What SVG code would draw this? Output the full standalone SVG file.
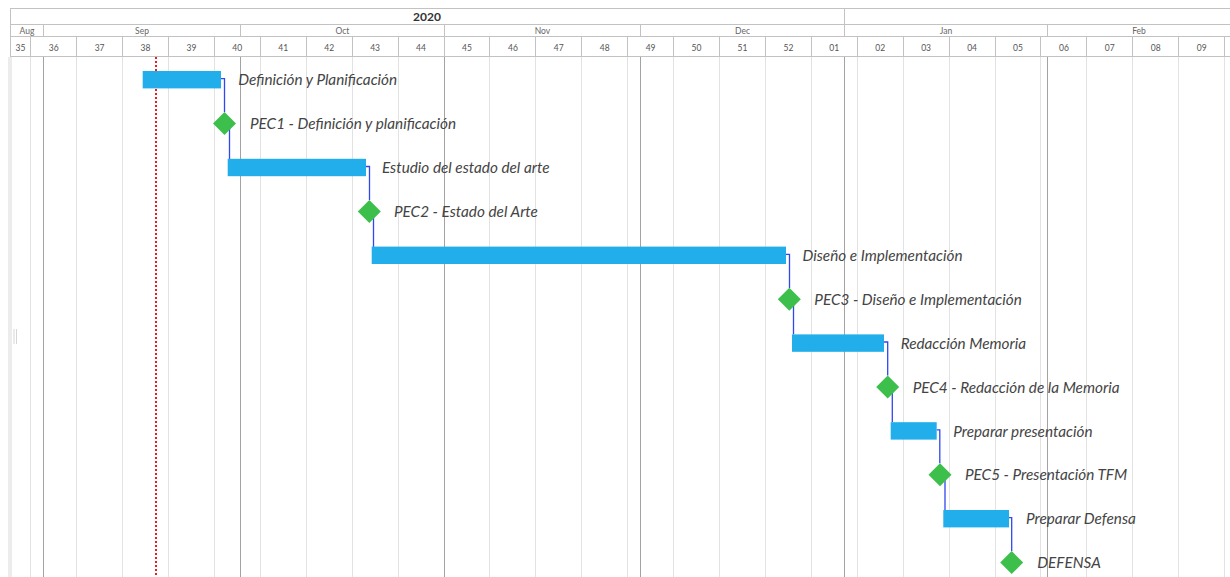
<svg xmlns="http://www.w3.org/2000/svg" width="1230" height="577" viewBox="0 0 1230 577">
  <style>
    .hdr { stroke: #c2c2c2; stroke-width: 1; fill: none; }
    .wk { stroke: #e2e2e2; stroke-width: 1; }
    .mo { stroke: #a3a3a3; stroke-width: 1; }
    .year { font-family: Lato, "Liberation Sans", sans-serif; font-weight: bold; font-size: 12px; fill: #333; text-anchor: middle; }
    .month { font-family: Lato, "Liberation Sans", sans-serif; font-size: 8.5px; fill: #666; text-anchor: middle; }
    .week { font-family: Lato, "Liberation Sans", sans-serif; font-size: 8.5px; fill: #555; text-anchor: middle; }
    .bar { fill: #21aeea; }
    .ms { fill: #3dbf4b; }
    .lbl { font-family: Lato, "Liberation Sans", sans-serif; font-style: italic; font-size: 15.3px; fill: #444; }
    .dep { stroke: #3048f0; stroke-width: 1.3; fill: none; }
  </style>

  <rect width="1230" height="577" fill="#ffffff"/>

  <!-- left splitter strip and grip -->
  <rect x="8" y="57" width="4" height="520" fill="#ececec"/>
  <g stroke="#d6d6d6" stroke-width="1">
    <line x1="14" y1="329" x2="14" y2="344"/>
    <line x1="16.5" y1="329" x2="16.5" y2="344"/>
  </g>

  <!-- body grid: week lines -->
  <g id="grid" class="wk">
    <line x1="30.5" y1="57" x2="30.5" y2="577"/>
    <line x1="76.5" y1="57" x2="76.5" y2="577"/>
    <line x1="122.5" y1="57" x2="122.5" y2="577"/>
    <line x1="168.5" y1="57" x2="168.5" y2="577"/>
    <line x1="214.5" y1="57" x2="214.5" y2="577"/>
    <line x1="260.5" y1="57" x2="260.5" y2="577"/>
    <line x1="306.5" y1="57" x2="306.5" y2="577"/>
    <line x1="352.5" y1="57" x2="352.5" y2="577"/>
    <line x1="398.5" y1="57" x2="398.5" y2="577"/>
    <line x1="489.5" y1="57" x2="489.5" y2="577"/>
    <line x1="535.5" y1="57" x2="535.5" y2="577"/>
    <line x1="581.5" y1="57" x2="581.5" y2="577"/>
    <line x1="627.5" y1="57" x2="627.5" y2="577"/>
    <line x1="673.5" y1="57" x2="673.5" y2="577"/>
    <line x1="719.5" y1="57" x2="719.5" y2="577"/>
    <line x1="765.5" y1="57" x2="765.5" y2="577"/>
    <line x1="811.5" y1="57" x2="811.5" y2="577"/>
    <line x1="857.5" y1="57" x2="857.5" y2="577"/>
    <line x1="903.5" y1="57" x2="903.5" y2="577"/>
    <line x1="949.5" y1="57" x2="949.5" y2="577"/>
    <line x1="995.5" y1="57" x2="995.5" y2="577"/>
    <line x1="1040.5" y1="57" x2="1040.5" y2="577"/>
    <line x1="1086.5" y1="57" x2="1086.5" y2="577"/>
    <line x1="1132.5" y1="57" x2="1132.5" y2="577"/>
    <line x1="1178.5" y1="57" x2="1178.5" y2="577"/>
    <line x1="1224.5" y1="57" x2="1224.5" y2="577"/>
  </g>
  <!-- body grid: month lines -->
  <g class="mo">
    <line x1="43.5" y1="57" x2="43.5" y2="577"/>
    <line x1="240.5" y1="57" x2="240.5" y2="577"/>
    <line x1="444.5" y1="57" x2="444.5" y2="577"/>
    <line x1="640.5" y1="57" x2="640.5" y2="577"/>
    <line x1="844.5" y1="57" x2="844.5" y2="577"/>
    <line x1="1047.5" y1="57" x2="1047.5" y2="577"/>
  </g>

  <!-- timescale header -->
  <g id="header">
    <g class="hdr">
      <line x1="10" y1="8.5" x2="1230" y2="8.5"/>
      <line x1="10" y1="24.5" x2="1230" y2="24.5"/>
      <line x1="10" y1="36.5" x2="1230" y2="36.5"/>
      <line x1="10" y1="56.5" x2="1230" y2="56.5"/>
      <line x1="10.5" y1="8" x2="10.5" y2="57"/>
      <line x1="844.5" y1="8.5" x2="844.5" y2="24.5"/>
      <!-- month dividers -->
      <line x1="43.5" y1="24.5" x2="43.5" y2="36.5"/>
      <line x1="240.5" y1="24.5" x2="240.5" y2="36.5"/>
      <line x1="444.5" y1="24.5" x2="444.5" y2="36.5"/>
      <line x1="640.5" y1="24.5" x2="640.5" y2="36.5"/>
      <line x1="844.5" y1="24.5" x2="844.5" y2="36.5"/>
      <line x1="1047.5" y1="24.5" x2="1047.5" y2="36.5"/>
      <!-- week dividers -->
      <line x1="30.5" y1="36.5" x2="30.5" y2="56.5"/>
      <line x1="76.5" y1="36.5" x2="76.5" y2="56.5"/>
      <line x1="122.5" y1="36.5" x2="122.5" y2="56.5"/>
      <line x1="168.5" y1="36.5" x2="168.5" y2="56.5"/>
      <line x1="214.5" y1="36.5" x2="214.5" y2="56.5"/>
      <line x1="260.5" y1="36.5" x2="260.5" y2="56.5"/>
      <line x1="306.5" y1="36.5" x2="306.5" y2="56.5"/>
      <line x1="352.5" y1="36.5" x2="352.5" y2="56.5"/>
      <line x1="398.5" y1="36.5" x2="398.5" y2="56.5"/>
      <line x1="444.5" y1="36.5" x2="444.5" y2="56.5"/>
      <line x1="489.5" y1="36.5" x2="489.5" y2="56.5"/>
      <line x1="535.5" y1="36.5" x2="535.5" y2="56.5"/>
      <line x1="581.5" y1="36.5" x2="581.5" y2="56.5"/>
      <line x1="627.5" y1="36.5" x2="627.5" y2="56.5"/>
      <line x1="673.5" y1="36.5" x2="673.5" y2="56.5"/>
      <line x1="719.5" y1="36.5" x2="719.5" y2="56.5"/>
      <line x1="765.5" y1="36.5" x2="765.5" y2="56.5"/>
      <line x1="811.5" y1="36.5" x2="811.5" y2="56.5"/>
      <line x1="857.5" y1="36.5" x2="857.5" y2="56.5"/>
      <line x1="903.5" y1="36.5" x2="903.5" y2="56.5"/>
      <line x1="949.5" y1="36.5" x2="949.5" y2="56.5"/>
      <line x1="995.5" y1="36.5" x2="995.5" y2="56.5"/>
      <line x1="1040.5" y1="36.5" x2="1040.5" y2="56.5"/>
      <line x1="1086.5" y1="36.5" x2="1086.5" y2="56.5"/>
      <line x1="1132.5" y1="36.5" x2="1132.5" y2="56.5"/>
      <line x1="1178.5" y1="36.5" x2="1178.5" y2="56.5"/>
      <line x1="1224.5" y1="36.5" x2="1224.5" y2="56.5"/>
    </g>
    <text class="year" x="427" y="20.5">2020</text>
    <g class="month">
      <text x="27" y="34">Aug</text>
      <text x="142" y="34">Sep</text>
      <text x="342.5" y="34">Oct</text>
      <text x="542.5" y="34">Nov</text>
      <text x="742.5" y="34">Dec</text>
      <text x="946" y="34">Jan</text>
      <text x="1139" y="34">Feb</text>
    </g>
    <g class="week">
      <text x="20.5" y="50.5">35</text>
      <text x="53.7" y="50.5">36</text>
      <text x="99.6" y="50.5">37</text>
      <text x="145.5" y="50.5">38</text>
      <text x="191.4" y="50.5">39</text>
      <text x="237.3" y="50.5">40</text>
      <text x="283.3" y="50.5">41</text>
      <text x="329.2" y="50.5">42</text>
      <text x="375.1" y="50.5">43</text>
      <text x="421" y="50.5">44</text>
      <text x="467" y="50.5">45</text>
      <text x="512.9" y="50.5">46</text>
      <text x="558.8" y="50.5">47</text>
      <text x="604.7" y="50.5">48</text>
      <text x="650.6" y="50.5">49</text>
      <text x="696.5" y="50.5">50</text>
      <text x="742.5" y="50.5">51</text>
      <text x="788.4" y="50.5">52</text>
      <text x="834.3" y="50.5">01</text>
      <text x="880.2" y="50.5">02</text>
      <text x="926.1" y="50.5">03</text>
      <text x="972.1" y="50.5">04</text>
      <text x="1018" y="50.5">05</text>
      <text x="1063.9" y="50.5">06</text>
      <text x="1109.8" y="50.5">07</text>
      <text x="1155.7" y="50.5">08</text>
      <text x="1201.7" y="50.5">09</text>
    </g>
  </g>

  <!-- today marker -->
  <line id="today" x1="156" y1="57" x2="156" y2="577" stroke="#f01c24" stroke-width="2" stroke-dasharray="2 2"/>

  <!-- dependency links -->
  <g id="connectors" class="dep">
    <path d="M221,78.7 H224.5 V112"/>
    <path d="M229.5,124 V159"/>
    <path d="M366,166.5 H369.5 V200"/>
    <path d="M373.5,212 V247"/>
    <path d="M786,254.3 H789.5 V288"/>
    <path d="M793.5,300 V334.5"/>
    <path d="M884,342 H887.7 V375.5"/>
    <path d="M892.3,387 V422.3"/>
    <path d="M936.7,429.9 H939.8 V463.3"/>
    <path d="M945,475 V510"/>
    <path d="M1009,517.7 H1011.7 V551"/>
  </g>

  <!-- tasks and milestones -->
  <g id="task-definicion">
    <rect class="bar" x="142.7" y="71" width="78.3" height="17.4"/>
    <text class="lbl" x="238.3" y="85.3">Definición y Planificación</text>
  </g>
  <g id="pec1">
    <polygon class="ms" points="224.5,112.1 236,123.6 224.5,135.1 213,123.6"/>
    <text class="lbl" x="250" y="129.2">PEC1 - Definición y planificación</text>
  </g>
  <g id="task-estudio">
    <rect class="bar" x="227.7" y="158.8" width="138.3" height="17.4"/>
    <text class="lbl" x="382" y="173.1">Estudio del estado del arte</text>
  </g>
  <g id="pec2">
    <polygon class="ms" points="369.3,199.9 380.8,211.4 369.3,222.9 357.8,211.4"/>
    <text class="lbl" x="394" y="217">PEC2 - Estado del Arte</text>
  </g>
  <g id="task-diseno">
    <rect class="bar" x="371.7" y="246.6" width="414.3" height="17.4"/>
    <text class="lbl" x="802.5" y="260.9">Diseño e Implementación</text>
  </g>
  <g id="pec3">
    <polygon class="ms" points="789.3,287.7 800.8,299.2 789.3,310.7 777.8,299.2"/>
    <text class="lbl" x="814.3" y="304.8">PEC3 - Diseño e Implementación</text>
  </g>
  <g id="task-memoria">
    <rect class="bar" x="792" y="334.4" width="92" height="17.4"/>
    <text class="lbl" x="900.7" y="348.7">Redacción Memoria</text>
  </g>
  <g id="pec4">
    <polygon class="ms" points="887.7,375.5 899.2,387 887.7,398.5 876.2,387"/>
    <text class="lbl" x="912.7" y="392.6">PEC4 - Redacción de la Memoria</text>
  </g>
  <g id="task-presentacion">
    <rect class="bar" x="890.7" y="422.2" width="46" height="17.4"/>
    <text class="lbl" x="953.3" y="436.5">Preparar presentación</text>
  </g>
  <g id="pec5">
    <polygon class="ms" points="940,463.3 951.5,474.8 940,486.3 928.5,474.8"/>
    <text class="lbl" x="965" y="480.4">PEC5 - Presentación TFM</text>
  </g>
  <g id="task-defensa">
    <rect class="bar" x="943.3" y="510" width="65.7" height="17.4"/>
    <text class="lbl" x="1026" y="524.3">Preparar Defensa</text>
  </g>
  <g id="defensa">
    <polygon class="ms" points="1011.7,551.1 1023.2,562.6 1011.7,574.1 1000.2,562.6"/>
    <text class="lbl" x="1037.3" y="568.2">DEFENSA</text>
  </g>
</svg>
